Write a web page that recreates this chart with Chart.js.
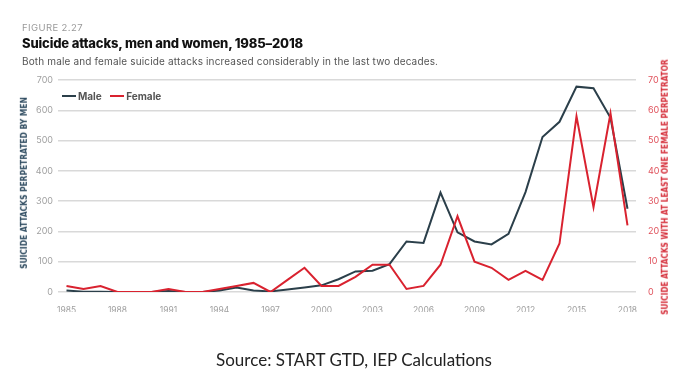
<!DOCTYPE html>
<html>
<head>
<meta charset="utf-8">
<script src="https://cdn.jsdelivr.net/npm/chart.js@4/dist/chart.umd.min.js"></script>
<style>
  html, body { margin: 0; padding: 0; background: #fff; }
  #wrap { position: relative; width: 700px; height: 383px; overflow: hidden; font-family: Inter, "Open Sans", sans-serif; }
  #c { position: absolute; left: 0; top: 0; }
  .t { position: absolute; white-space: nowrap; }
  #fig { left: 22px; top: 22px; font-size: 9.5px; color: #9a9a9a; letter-spacing: 0.4px; }
  #title { left: 22px; top: 35px; font-size: 13px; font-weight: 800; color: #111; letter-spacing: -0.15px; }
  #sub { left: 22px; top: 55px; font-size: 10px; color: #555; letter-spacing: 0.15px; }
  #legend { left: 62px; top: 90px; font-size: 10px; font-weight: 700; color: #555; }
  #legend span.sw { display: inline-block; width: 14px; height: 2px; vertical-align: middle; margin-right: 2px; position: relative; top: -1px; }
  .ytitle { position: absolute; white-space: nowrap; font-family: "Liberation Sans Narrow", "DejaVu Sans Condensed", sans-serif; font-weight: 700; font-size: 8.4px; transform-origin: center center; }
  #ylt { color: #2d4a5f; }
  #yrt { color: #d42a36; font-size: 8.2px; }
  #src { left: 0; width: 708px; text-align: center; top: 349px; font-family: Lato, "Open Sans", sans-serif; font-size: 17px; color: #222; }
</style>
</head>
<body>
<div id="wrap">
  <canvas id="c" width="700" height="383"></canvas>
  <div class="t" id="fig">FIGURE 2.27</div>
  <div class="t" id="title">Suicide attacks, men and women, 1985–2018</div>
  <div class="t" id="sub">Both male and female suicide attacks increased considerably in the last two decades.</div>
  <div class="t" id="legend"><span class="sw" style="background:#2b3f4a"></span>Male <span class="sw" style="background:#d9222f;margin-left:6px"></span>Female</div>
  <div class="ytitle" id="ylt">SUICIDE ATTACKS PERPETRATED BY MEN</div>
  <div class="ytitle" id="yrt">SUICIDE ATTACKS WITH AT LEAST ONE FEMALE PERPETRATOR</div>
  <div class="t" id="src">Source: START GTD, IEP Calculations</div>
</div>
<script>
const years = [1985,1986,1987,1988,1989,1990,1991,1992,1993,1994,1995,1996,1997,1998,1999,2000,2001,2002,2003,2004,2005,2006,2007,2008,2009,2010,2011,2012,2013,2014,2015,2016,2017,2018];
const male = [5,1,1,0,0,0,3,0,0,5,15,5,2,8,15,22,42,68,70,92,167,162,328,197,167,157,192,330,512,562,678,673,575,275];
const female = [2,1,2,0,0,0,1,0,0,1,2,3,0,4,8,2,2,5,9,9,1,2,9,25,10,8,4,7,4,16,58,28,59,22];
const xTicks = [1985,1988,1991,1994,1997,2000,2003,2006,2009,2012,2015,2018];
const leftTicks = [0,100,200,300,400,500,600,700];
const rightTicks = [0,10,20,30,40,50,60,70];

function place(id, cx, cy) {
  const el = document.getElementById(id);
  const w = el.offsetWidth, h = el.offsetHeight;
  el.style.left = (cx - w / 2) + 'px';
  el.style.top = (cy - h / 2) + 'px';
  el.style.transform = 'rotate(-90deg)';
}
place('ylt', 24, 183);
place('yrt', 664, 187);

const toPts = (arr) => arr.map((v, i) => ({ x: years[i], y: v }));

new Chart(document.getElementById('c'), {
  type: 'line',
  data: {
    datasets: [
      { label: 'Male', data: toPts(male), yAxisID: 'yL', borderColor: '#2b3f4a', borderWidth: 2, pointRadius: 0, tension: 0, order: 2 },
      { label: 'Female', data: toPts(female), yAxisID: 'yR', borderColor: '#d9222f', borderWidth: 2, pointRadius: 0, tension: 0, order: 1 }
    ]
  },
  options: {
    responsive: false,
    animation: false,
    layout: { padding: { top: 80, bottom: 71, left: 0, right: 0 } },
    plugins: { legend: { display: false }, tooltip: { enabled: false } },
    scales: {
      x: {
        type: 'linear', min: 1984.5, max: 2018.5,
        afterBuildTicks: (s) => { s.ticks = xTicks.map(v => ({ value: v })); },
        afterFit: (s) => { s.height = 20; },
        grid: { display: false },
        border: { display: false },
        ticks: { color: '#a0a0a0', font: { family: 'Inter', size: 8.5 }, padding: 5, maxRotation: 0, autoSkip: false, callback: (v) => String(v) }
      },
      yL: {
        position: 'left', min: 0, max: 700,
        afterBuildTicks: (s) => { s.ticks = leftTicks.map(v => ({ value: v })); },
        afterFit: (s) => { s.width = 58; },
        grid: { color: '#d9d9d9', lineWidth: 1.5, drawTicks: false },
        border: { display: false },
        ticks: { color: '#a0a0a0', font: { family: 'Inter', size: 9 }, padding: 5 }
      },
      yR: {
        position: 'right', min: 0, max: 70,
        afterBuildTicks: (s) => { s.ticks = rightTicks.map(v => ({ value: v })); },
        afterFit: (s) => { s.width = 64; },
        grid: { display: false },
        border: { display: false },
        ticks: { color: '#e0525c', font: { family: 'Inter', size: 9 }, padding: 4 }
      }
    }
  }
});
</script>
</body>
</html>
